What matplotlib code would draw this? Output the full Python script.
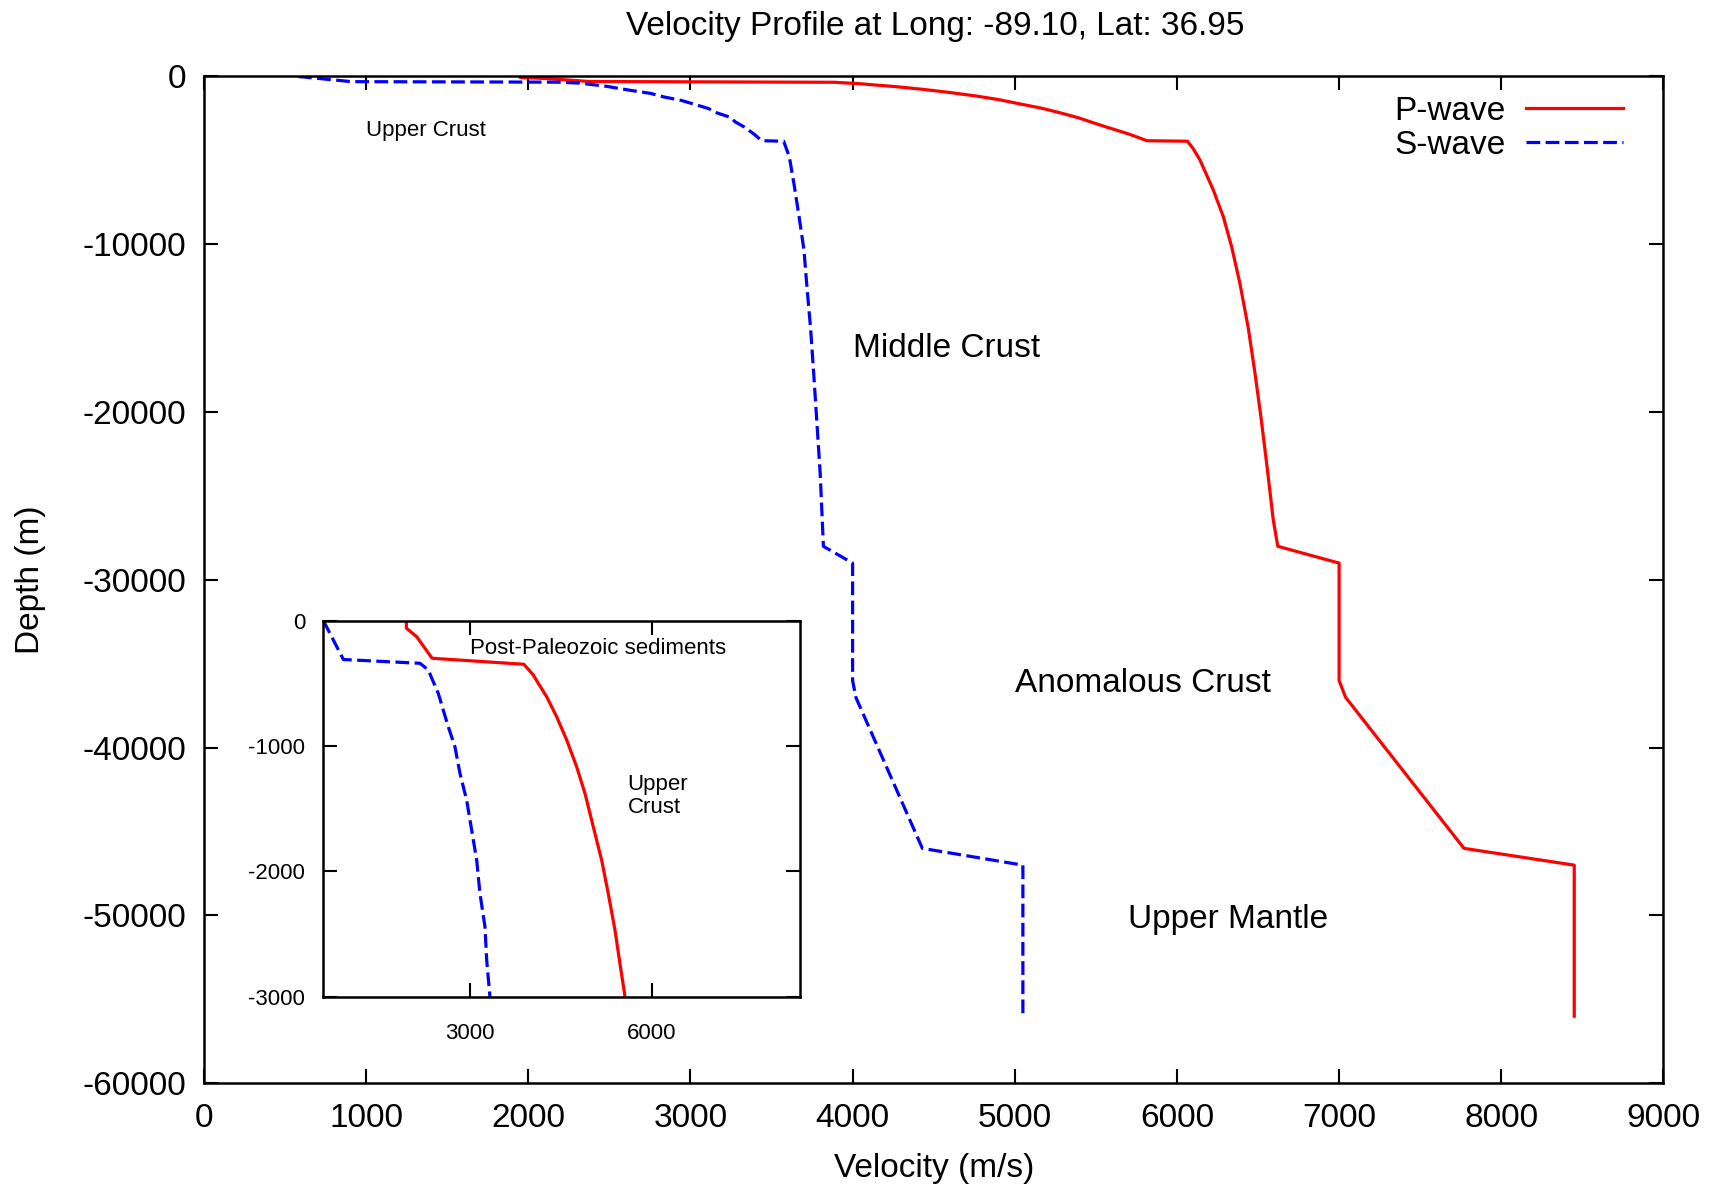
import numpy as np
import matplotlib
matplotlib.use('Agg')
import matplotlib.pyplot as plt

plt.rcParams['font.family'] = ['Liberation Sans', 'DejaVu Sans']
plt.rcParams['axes.unicode_minus'] = False

# velocity profile (m/s vs depth in m)
P_VEL = [1950, 1950, 2120, 2375, 3890, 4045, 4128, 4266, 4431, 4597, 4761, 4899, 5036,
         5174, 5283, 5394, 5476, 5560, 5700, 5815, 6065,
         6100, 6142, 6224, 6286, 6337, 6388, 6440, 6480, 6518, 6555, 6594, 6622,
         7000, 7000, 7040, 7770, 8450, 8450]
P_DEPTH = [0, -60, -128, -300, -348, -433, -500, -607, -766, -952, -1165, -1378, -1644,
           -1910, -2176, -2468, -2734, -3000, -3420, -3830, -3860,
           -4300, -4980, -6760, -8360, -10140, -12320, -15000, -17600, -20300, -23200,
           -26430, -28000, -29000, -36000, -37000, -46000, -47000, -56000]

S_VEL = [580, 910, 2175, 2312, 2394, 2477, 2559, 2642, 2752, 2835, 2945, 3028, 3111,
         3165, 3248, 3276, 3330, 3390, 3440, 3575,
         3610, 3640, 3670, 3700, 3720, 3740, 3760, 3780, 3800, 3820,
         4000, 4000, 4020, 4430, 5050, 5050]
S_DEPTH = [0, -310, -340, -393, -487, -580, -713, -846, -1006, -1218, -1431, -1670, -1910,
           -2176, -2442, -2708, -3000, -3420, -3830, -3860,
           -4800, -6500, -8360, -10340, -12730, -14910, -17690, -20670, -23650, -28000,
           -29000, -36000, -37000, -46000, -47000, -56000]

XTICKS = [0, 1000, 2000, 3000, 4000, 5000, 6000, 7000, 8000, 9000]
YTICKS = [0, -10000, -20000, -30000, -40000, -50000, -60000]
INSET_XTICKS = [3000, 6000]
INSET_YTICKS = [0, -1000, -2000, -3000]

RED = '#ff0000'
BLUE = '#0000ff'

fig = plt.figure(figsize=(17.11, 11.89), dpi=100)
ax = fig.add_axes([0.1192, 0.0889, 0.8530, 0.8468])

ax.plot(P_VEL, P_DEPTH, color=RED, lw=2.3, label='P-wave')
ax.plot(S_VEL, S_DEPTH, color=BLUE, lw=2.3, ls=(0, (4.3, 1.7)), label='S-wave')

ax.set_xlim(0, 9000)
ax.set_ylim(-60000, 0)
ax.set_xticks(XTICKS)
ax.set_yticks(YTICKS)
ax.tick_params(direction='in', top=True, right=True, length=10, width=1.5,
               labelsize=24, pad=14)
ax.tick_params(axis='y', pad=13)
for s in ax.spines.values():
    s.set_linewidth(1.8)

ax.set_xlabel('Velocity (m/s)', fontsize=24)
ax.set_ylabel('Depth (m)', fontsize=24)
ax.xaxis.set_label_coords(0.5, -0.069)
ax.yaxis.set_label_coords(-0.108, 0.5)

fig.text(935 / 1711, 1 - 26 / 1189, 'Velocity Profile at Long: -89.10, Lat: 36.95',
         ha='center', va='center', fontsize=24)

ax.text(1000, -3200, 'Upper Crust', fontsize=16, va='center')
ax.text(4000, -16200, 'Middle Crust', fontsize=24, va='center')
ax.text(5000, -36200, 'Anomalous Crust', fontsize=24, va='center')
ax.text(5700, -50250, 'Upper Mantle', fontsize=24, va='center')

leg = ax.legend(loc='upper right', bbox_to_anchor=(0.972, 0.981), frameon=False,
                markerfirst=False, fontsize=24, handlelength=2.9, handletextpad=0.6,
                labelspacing=0.1, borderaxespad=0, borderpad=0)

# inset with the shallow part
ins = fig.add_axes([0.1890, 0.1617, 0.2786, 0.3163])
ins.plot(P_VEL, P_DEPTH, color=RED, lw=2.3)
ins.plot(S_VEL, S_DEPTH, color=BLUE, lw=2.3, ls=(0, (4.3, 1.7)))
ins.set_xlim(min(S_VEL), max(P_VEL))
ins.set_ylim(-3000, 0)
ins.set_xticks(INSET_XTICKS)
ins.set_yticks(INSET_YTICKS)
ins.tick_params(direction='in', top=True, right=True, length=10, width=1.5,
                labelsize=16)
ins.tick_params(axis='x', pad=19)
ins.tick_params(axis='y', pad=13)
for s in ins.spines.values():
    s.set_linewidth(1.8)
ins.text(3000, -220, 'Post-Paleozoic sediments', fontsize=16, va='center')
ins.text(5600, -1400, 'Upper\nCrust', fontsize=16, va='center', linespacing=1.1)

fig.savefig('out.png', dpi=100)
